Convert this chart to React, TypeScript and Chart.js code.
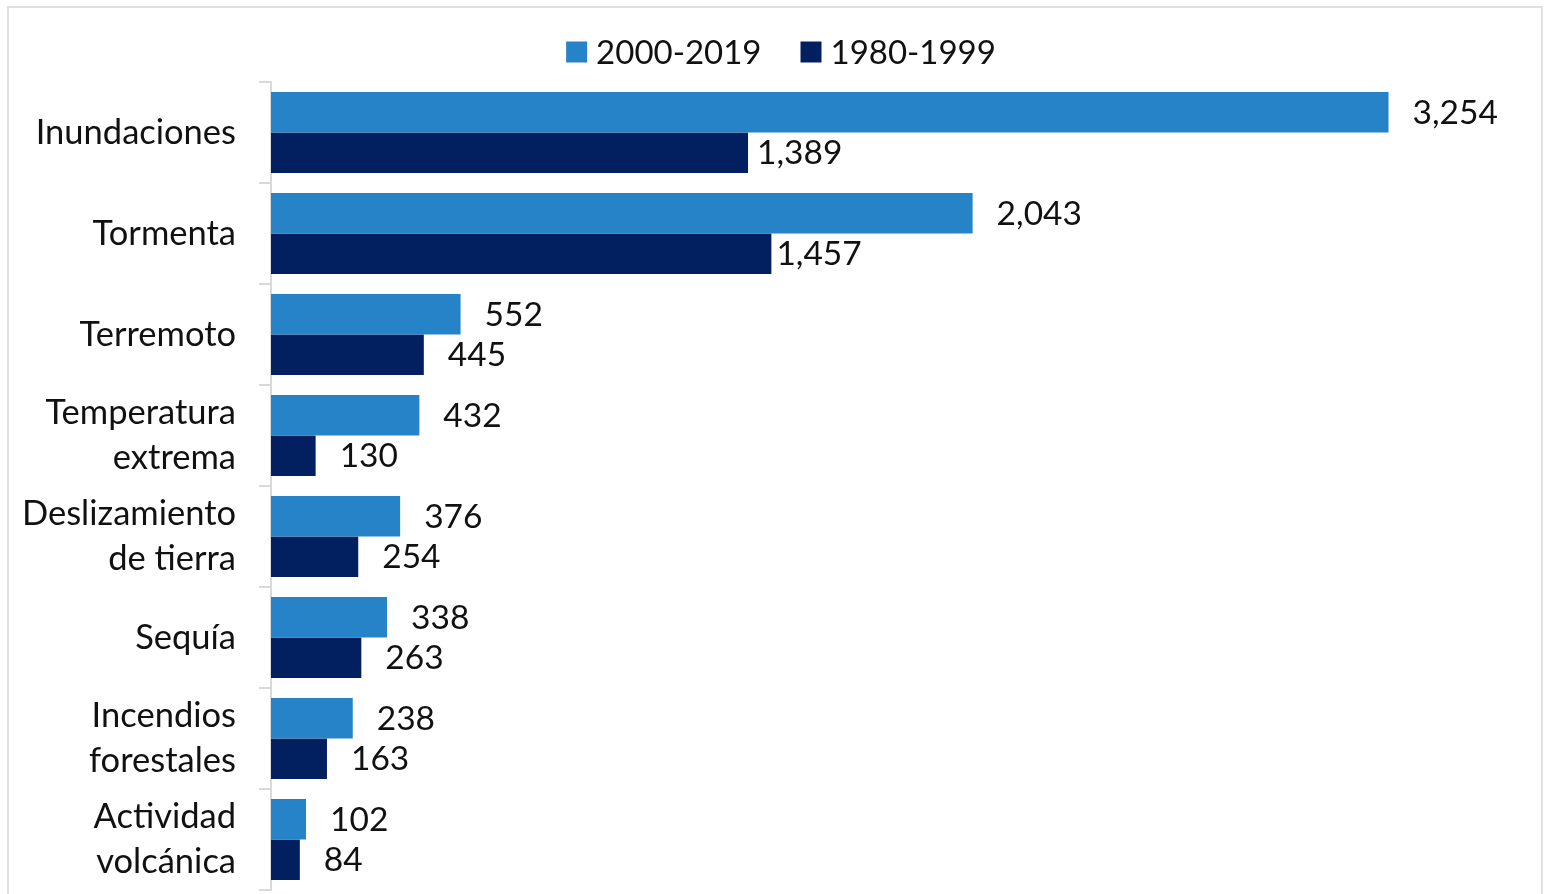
import React, { useEffect, useRef } from "react";
import { Chart, registerables } from "chart.js";

Chart.register(...registerables);

const categories: (string | string[])[] = [
  "Inundaciones",
  "Tormenta",
  "Terremoto",
  ["Temperatura", "extrema"],
  ["Deslizamiento", "de tierra"],
  "Sequía",
  ["Incendios", "forestales"],
  ["Actividad", "volcánica"],
];
const series2000_2019 = [3254, 2043, 552, 432, 376, 338, 238, 102];
const series1980_1999 = [1389, 1457, 445, 130, 254, 263, 163, 84];
const seriesNames = ["2000-2019", "1980-1999"];

const BLUE = "#2783c8";
const NAVY = "#022060";
const FONT = "Lato, 'Noto Sans', sans-serif";
const CAT_FONT_SIZE = 34.5;
const VALUE_FONT_SIZE = 33.5;
const LEGEND_FONT_SIZE = 33;
const LABEL_GAP = 24;
const labelGapOverride: Record<string, number> = { "1-0": 9, "1-1": 5 };

const valueLabels = {
  id: "valueLabels",
  afterDatasetsDraw(chart: any) {
    const ctx = chart.ctx;
    ctx.save();
    ctx.font = `${VALUE_FONT_SIZE}px ${FONT}`;
    ctx.fillStyle = "#111";
    ctx.textAlign = "left";
    ctx.textBaseline = "middle";
    chart.data.datasets.forEach((ds: any, di: number) => {
      const meta = chart.getDatasetMeta(di);
      meta.data.forEach((bar: any, i: number) => {
        const v = ds.data[i] as number;
        const gap = labelGapOverride[`${di}-${i}`] ?? LABEL_GAP;
        ctx.fillText(v.toLocaleString("en-US"), bar.x + gap, bar.y + 1);
      });
    });
    ctx.restore();
  },
};

const customLegend = {
  id: "customLegend",
  afterDraw(chart: any) {
    const ctx = chart.ctx;
    ctx.save();
    ctx.font = `${LEGEND_FONT_SIZE}px ${FONT}`;
    ctx.textBaseline = "middle";
    ctx.textAlign = "left";
    const box = 21;
    const boxGap = 9;
    const itemGap = 39;
    const items = chart.data.datasets.map((ds: any) => ({
      text: ds.label as string,
      color: ds.backgroundColor as string,
      w: ctx.measureText(ds.label).width,
    }));
    const total =
      items.reduce((s: number, it: any) => s + box + boxGap + it.w, 0) +
      itemGap * (items.length - 1);
    let x = chart.width / 2 + 8 - total / 2;
    const cy = 52;
    items.forEach((it: any) => {
      ctx.fillStyle = it.color;
      ctx.fillRect(x, cy - box / 2, box, box);
      x += box + boxGap;
      ctx.fillStyle = "#111";
      ctx.fillText(it.text, x, cy + 1);
      x += it.w + itemGap;
    });
    ctx.restore();
  },
};

export default function App() {
  const canvasRef = useRef<HTMLCanvasElement | null>(null);

  useEffect(() => {
    if (!canvasRef.current) return;
    const chart = new Chart(canvasRef.current, {
      type: "bar",
      data: {
        labels: categories,
        datasets: [
          {
            label: seriesNames[0],
            data: series2000_2019,
            backgroundColor: BLUE,
            barPercentage: 1,
            categoryPercentage: 0.8,
          },
          {
            label: seriesNames[1],
            data: series1980_1999,
            backgroundColor: NAVY,
            barPercentage: 1,
            categoryPercentage: 0.8,
          },
        ],
      },
      options: {
        indexAxis: "y",
        responsive: false,
        animation: false,
        devicePixelRatio: 1,
        layout: { padding: { top: 82, right: 73, bottom: 4, left: 0 } },
        plugins: {
          legend: { display: false },
          tooltip: { enabled: false },
        },
        scales: {
          x: {
            display: false,
            min: 0,
            max: 3500,
          },
          y: {
            afterFit: (scale: any) => {
              scale.width = 271;
              scale.paddingTop = 0;
              scale.paddingBottom = 0;
            },
            grid: {
              offset: true,
              drawOnChartArea: false,
              drawTicks: true,
              tickLength: 12,
              color: "#d9d9d9",
              lineWidth: 2,
            },
            border: { display: true, color: "#d9d9d9", width: 2 },
            ticks: {
              color: "#111",
              padding: 23,
              font: { family: FONT, size: CAT_FONT_SIZE, lineHeight: 1.3 },
            },
          },
        },
      },
      plugins: [valueLabels, customLegend],
    });
    return () => chart.destroy();
  }, []);

  return (
    <div
      style={{
        position: "fixed",
        left: 0,
        top: 0,
        width: 1546,
        height: 894,
        overflow: "hidden",
        background: "#fff",
      }}
    >
      <div
        style={{
          position: "absolute",
          left: 7,
          top: 6,
          width: 1536,
          height: 1000,
          boxSizing: "border-box",
          border: "2px solid #e0e0e0",
        }}
      />
      <canvas
        ref={canvasRef}
        width={1546}
        height={894}
        style={{ position: "absolute", left: 0, top: 0, width: 1546, height: 894 }}
      />
    </div>
  );
}
